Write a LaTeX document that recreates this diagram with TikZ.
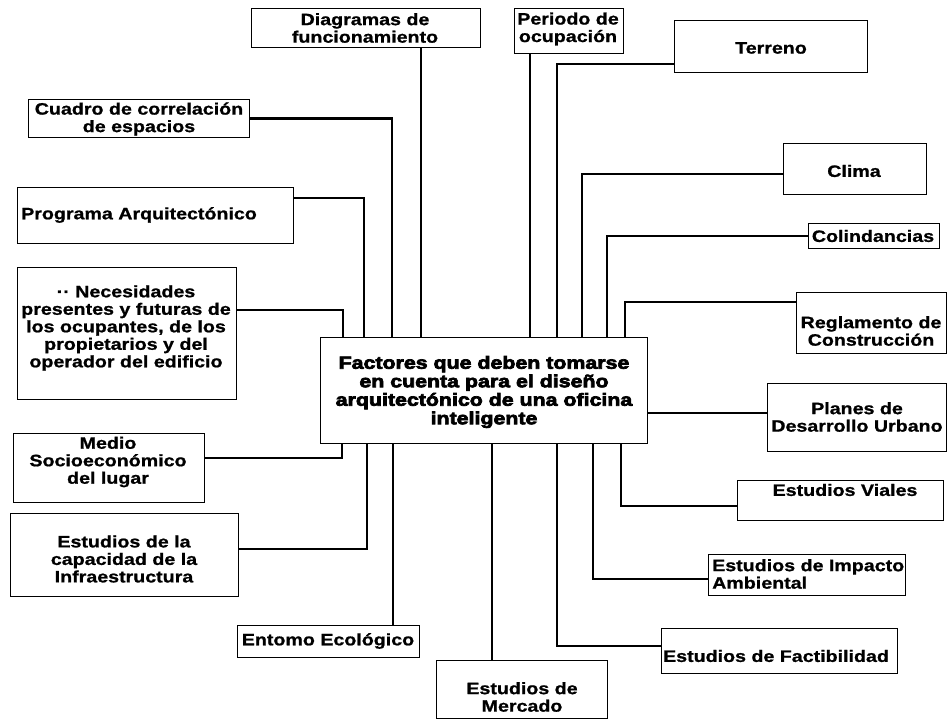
\documentclass[tikz,border=0pt]{standalone}
\usepackage{fontspec}
\newfontfamily\boxfont{Liberation Sans Bold}[FakeStretch=1.19,FakeBold=1]
\newfontfamily\centfont{Liberation Sans Bold}[FakeStretch=1.22,FakeBold=4]
\begin{document}
\begin{tikzpicture}[x=1pt,y=-1pt,
  frame/.style={draw=black, line width=1pt, inner sep=0pt, anchor=north west},
  lbl/.style={font=\boxfont\fontsize{16.5}{17.5}\selectfont, align=center, inner sep=0pt},
  clbl/.style={font=\centfont\fontsize{17.5}{18.5}\selectfont, align=center, inner sep=0pt},
  link/.style={draw=black, line width=2.2pt}]
\useasboundingbox (0,0) rectangle (947,721);

% frames
\node[frame, minimum width=229pt, minimum height=39pt]  (diag)  at (251,8)   {};
\node[frame, minimum width=109pt, minimum height=45pt]  (peri)  at (514,8)   {};
\node[frame, minimum width=193pt, minimum height=52pt]  (terr)  at (674,20)  {};
\node[frame, minimum width=221pt, minimum height=38pt]  (cuad)  at (28,99)   {};
\node[frame, minimum width=143pt, minimum height=51pt]  (clim)  at (783,143) {};
\node[frame, minimum width=276pt, minimum height=56pt]  (prog)  at (17,187)  {};
\node[frame, minimum width=131pt, minimum height=25pt]  (coli)  at (808,223) {};
\node[frame, minimum width=219pt, minimum height=132pt] (nece)  at (17,267)  {};
\node[frame, minimum width=150pt, minimum height=61pt]  (regl)  at (796,292) {};
\node[frame, minimum width=327pt, minimum height=106pt] (c)     at (320,337) {};
\node[frame, minimum width=179pt, minimum height=68pt]  (plan)  at (767,383) {};
\node[frame, minimum width=191pt, minimum height=69pt]  (medi)  at (13,433)  {};
\node[frame, minimum width=206pt, minimum height=40pt]  (vial)  at (737,480) {};
\node[frame, minimum width=228pt, minimum height=83pt]  (infr)  at (10,513)  {};
\node[frame, minimum width=197pt, minimum height=41pt]  (impa)  at (708,554) {};
\node[frame, minimum width=182pt, minimum height=32pt]  (ento)  at (237,625) {};
\node[frame, minimum width=236pt, minimum height=45pt]  (fact)  at (661,628) {};
\node[frame, minimum width=171pt, minimum height=58pt]  (merc)  at (436,660) {};

% texts
\node[lbl] (diag-t) at (365,28)  {Diagramas de\\funcionamiento};
\node[lbl] (peri-t) at (568,29)  {Periodo de\\ocupación};
\node[lbl] (terr-t) at (771,48)  {Terreno};
\node[lbl] (cuad-t) at (139,119) {Cuadro de correlación\\de espacios};
\node[lbl] (clim-t) at (854,171) {Clima};
\node[lbl, anchor=west] (prog-t) at (21,215) {Programa Arquitectónico};
\node[lbl] (coli-t) at (873,236) {Colindancias};
\node[lbl] (nece-t) at (126,328) {·· Necesidades\\presentes y futuras de\\los ocupantes, de los\\propietarios y del\\operador del edificio};
\node[lbl] (regl-t) at (871,331) {Reglamento de\\Construcción};
\node[clbl] (c-t)   at (484,392) {Factores que deben tomarse\\en cuenta para el diseño\\arquitectónico de una oficina\\inteligente};
\node[lbl] (plan-t) at (857,417) {Planes de\\Desarrollo Urbano};
\node[lbl] (medi-t) at (108,462) {Medio\\Socioeconómico\\del lugar};
\node[lbl] (vial-t) at (845,490) {Estudios Viales};
\node[lbl] (infr-t) at (124,559) {Estudios de la\\capacidad de la\\Infraestructura};
\node[lbl, anchor=west, align=left] (impa-t) at (712,574) {Estudios de Impacto\\Ambiental};
\node[lbl] (ento-t) at (328,641) {Entomo Ecológico};
\node[lbl] (fact-t) at (776,656) {Estudios de Factibilidad};
\node[lbl] (merc-t) at (522,697) {Estudios de\\Mercado};

% attachment points on the central box
\coordinate (t1) at ([xshift=23pt]c.north west);
\coordinate (t2) at ([xshift=44pt]c.north west);
\coordinate (t3) at ([xshift=72pt]c.north west);
\coordinate (t4) at ([xshift=101pt]c.north west);
\coordinate (t5) at ([xshift=210pt]c.north west);
\coordinate (t6) at ([xshift=237pt]c.north west);
\coordinate (t7) at ([xshift=262pt]c.north west);
\coordinate (t8) at ([xshift=287pt]c.north west);
\coordinate (t9) at ([xshift=305pt]c.north west);
\coordinate (r1) at ([yshift=-76pt]c.north east);
\coordinate (b1) at ([xshift=22pt]c.south west);
\coordinate (b2) at ([xshift=47pt]c.south west);
\coordinate (b3) at ([xshift=73pt]c.south west);
\coordinate (b4) at ([xshift=172pt]c.south west);
\coordinate (b5) at ([xshift=237pt]c.south west);
\coordinate (b6) at ([xshift=273pt]c.south west);
\coordinate (b7) at ([xshift=301pt]c.south west);

% connectors
\draw[link] ([yshift=-43pt]nece.north east) -| (t1);
\draw[link] ([yshift=-11pt]prog.north east) -| (t2);
\draw[link] (cuad.east) -| (t3);
\draw[link] (diag.south -| t4) -- (t4);
\draw[link] (peri.south -| t5) -- (t5);
\draw[link] ([yshift=-44pt]terr.north west) -| (t6);
\draw[link] ([yshift=-31pt]clim.north west) -| (t7);
\draw[link] (coli.west) -| (t8);
\draw[link] ([yshift=-10pt]regl.north west) -| (t9);
\draw[link] (r1) -- (r1 -| plan.west);
\draw[link] (b1) |- ([yshift=-25pt]medi.north east);
\draw[link] (b2) |- ([yshift=-36pt]infr.north east);
\draw[link] (b3) -- (b3 |- ento.north);
\draw[link] (b4) -- (b4 |- merc.north);
\draw[link] (b5) |- ([yshift=-18pt]fact.north west);
\draw[link] (b6) |- ([yshift=-25pt]impa.north west);
\draw[link] (b7) |- ([yshift=-26pt]vial.north west);
\end{tikzpicture}
\end{document}
